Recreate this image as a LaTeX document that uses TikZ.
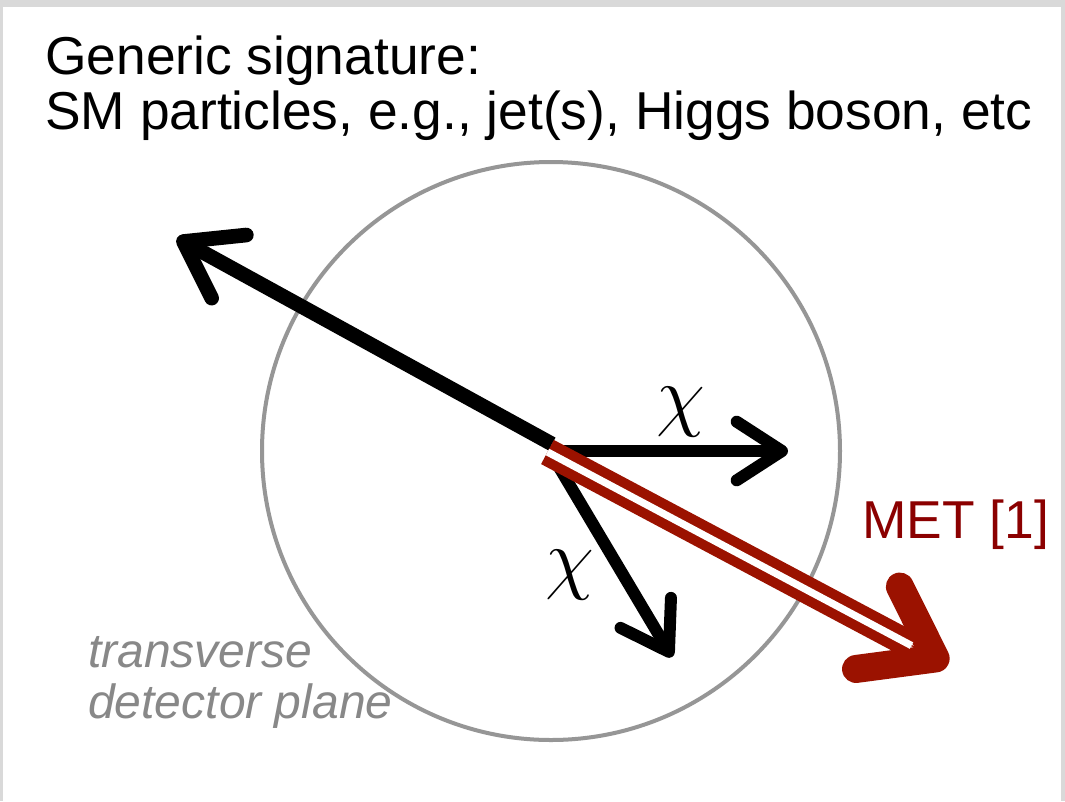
\documentclass[tikz,border=0pt]{standalone}
\usepackage{graphicx}
\usepackage{fontspec}
\setmainfont{Liberation Sans}
\usetikzlibrary{arrows.meta,calc}

\definecolor{metred}{RGB}{155,18,0}
\definecolor{mettext}{RGB}{139,0,0}
\definecolor{framegray}{RGB}{217,217,217}
\definecolor{planegray}{RGB}{150,150,150}
\definecolor{labelgray}{RGB}{136,136,136}

\newcommand{\chisym}{\scalebox{2.4}{\Huge$\chi$}}

\begin{document}
\begin{tikzpicture}[
  x=0.75pt, y=-0.75pt,
  title/.style={anchor=base west, inner sep=0pt, font=\fontsize{40}{48}\selectfont},
  planelbl/.style={anchor=base west, inner sep=0pt, text=labelgray,
    font=\fontsize{36}{43}\selectfont\itshape},
  plane/.style={circle, draw=planegray, line width=3pt, minimum size=433.5pt, inner sep=0pt},
  jet/.style={line width=11pt, -{Straight Barb[length=39pt, width=54pt, round]}},
  wimp/.style={line width=9pt, -{Straight Barb[length=34pt, width=44pt, round]}},
  chilbl/.style={inner sep=0pt},
  metline/.style={draw=metred, line width=7.5pt, double=white, double distance=5.5pt},
  methead/.style={draw=metred, line width=1pt,
    -{Straight Barb[length=49pt, width=70pt, line width=21pt 0, round]}},
]

% slide frame
\useasboundingbox (0,0) rectangle (1065,801);
\fill[framegray] (0,0) rectangle (1065,801);
\fill[white] (3,7) rectangle (1061,801);

% heading
\node[title] (sig) at (45,74) {Generic signature:};
\node[title] (smp) at (45,129) {SM particles, e.g., jet(s), Higgs boson, etc};

% transverse plane
\node[plane] (plane) at (551,451) {};
\node[planelbl] (tr) at (88,667) {transverse};
\node[planelbl] (dp) at (88,718) {detector plane};

% vertex and end points
\coordinate (jetorig) at (552,444);
\coordinate (jettip) at (177,238);
\coordinate (chiorig) at (549,451);
\coordinate (chiatip) at (788,451);
\coordinate (chiborig) at (553,457);
\coordinate (chibtip) at (672,657);
\coordinate (metorig) at (547.5,452);
\coordinate (mettip) at (948,665);

% visible particles
\draw[jet] (jetorig) -- (jettip);

% dark matter pair
\draw[wimp] (chiorig) -- (chiatip);
\draw[wimp] (chiborig) -- (chibtip);
\node[chilbl] (chia) at (681,412) {\chisym};
\node[chilbl] (chib) at (570,575) {\chisym};

% missing transverse energy
\draw[methead] ($(mettip)!40pt!(metorig)$) -- (mettip);
\draw[metline] (metorig) -- ($(mettip)!31pt!(metorig)$);
\node[title, text=mettext] (met) at (862,538) {MET [1]};

\end{tikzpicture}
\end{document}
